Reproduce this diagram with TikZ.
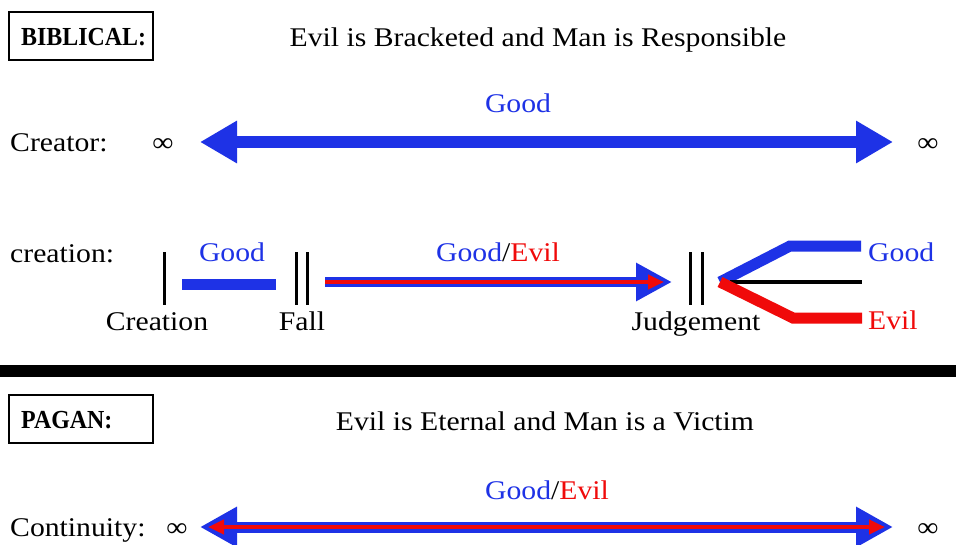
\documentclass[tikz,border=0pt]{standalone}
\usepackage{fontspec}
\setmainfont{Liberation Serif}[FakeStretch=1.1]
\newfontfamily\capfont{Liberation Serif}[FakeStretch=0.92]
\usetikzlibrary{arrows.meta}
\definecolor{gblue}{RGB}{30,50,230}
\definecolor{ered}{RGB}{240,10,10}
\tikzset{
  txt/.style={inner sep=0pt, anchor=base, font=\fontsize{27}{32}\selectfont},
  btxt/.style={inner sep=0pt, anchor=base west, font=\fontsize{26}{30}\capfont\bfseries},
  labbox/.style={draw, line width=2pt, minimum width=144pt, minimum height=48pt, inner sep=0pt},
  tick/.style={line width=3pt},
}
\begin{document}
\begin{tikzpicture}[x=1pt,y=-1pt]
\useasboundingbox[fill=white] (0,0) rectangle (956,544);
% BIBLICAL
\node[labbox] (bib) at (81,36) {};
\node[btxt] (bibt) at (21,45) {BIBLICAL:};
\node[txt] (t1) at (538,46) {Evil is Bracketed and Man is Responsible};
\node[txt, text=gblue] (g1) at (518,112) {Good};
\node[txt, anchor=base west] (creator) at (10,151) {Creator:};
\node[txt] (i1) at (163,151) {∞};
\node[txt] (i2) at (928,151) {∞};
\coordinate (a1) at (200,142);
\coordinate (a2) at (893,142);
\draw[gblue, line width=12pt, {Triangle[length=37pt,width=40pt]}-{Triangle[length=37pt,width=40pt]}] (a1) -- (a2);
% creation line
\node[txt, anchor=base west] (creation) at (10,262) {creation:};
\coordinate (c1t) at (164,252); \coordinate (c1b) at (164,305);
\draw[tick] (c1t) -- (c1b);
\node[txt] (creL) at (157,330) {Creation};
\coordinate (gb1) at (182,284); \coordinate (gb2) at (276,284);
\draw[gblue, line width=11pt] (gb1) -- (gb2);
\node[txt, text=gblue] (g2) at (232,261) {Good};
\coordinate (f1t) at (296,252); \coordinate (f1b) at (296,305);
\coordinate (f2t) at (307,252); \coordinate (f2b) at (307,305);
\draw[tick] (f1t) -- (f1b);
\draw[tick] (f2t) -- (f2b);
\node[txt] (fallL) at (302,330) {Fall};
\node[txt] (ge1) at (498,261) {\textcolor{gblue}{Good}/\textcolor{ered}{Evil}};
\coordinate (m1) at (325,282); \coordinate (m2) at (672,282);
\coordinate (m2r) at (664,282);
\draw[gblue, line width=10pt, -{Triangle[length=36pt,width=36pt]}] (m1) -- (m2);
\draw[ered, line width=4pt, -{Triangle[length=16pt,width=14pt]}] (m1) -- (m2r);
\coordinate (j1t) at (690,252); \coordinate (j1b) at (690,305);
\coordinate (j2t) at (702,252); \coordinate (j2b) at (702,305);
\draw[tick] (j1t) -- (j1b);
\draw[tick] (j2t) -- (j2b);
\node[txt] (judL) at (696,330) {Judgement};
% branches
\coordinate (br0) at (720,282);
\coordinate (bu1) at (790,246); \coordinate (bu2) at (861,246);
\coordinate (bd1) at (793,318); \coordinate (bd2) at (862,318);
\coordinate (bk1) at (730,282); \coordinate (bk2) at (862,282);
\draw[gblue, line width=11pt, line join=miter] (br0) -- (bu1) -- (bu2);
\draw[black, line width=4pt] (bk1) -- (bk2);
\draw[ered, line width=11pt, line join=miter] (br0) -- (bd1) -- (bd2);
\node[txt, text=gblue, anchor=base west] (g3) at (868,261) {Good};
\node[txt, text=ered, anchor=base west] (e3) at (868,329) {Evil};
% divider
\coordinate (d1) at (0,371); \coordinate (d2) at (956,371);
\draw[line width=12pt] (d1) -- (d2);
% PAGAN
\node[labbox] (pag) at (81,419) {};
\node[btxt] (pagt) at (21,428) {PAGAN:};
\node[txt] (t2) at (545,430) {Evil is Eternal and Man is a Victim};
\node[txt] (ge2) at (547,499) {\textcolor{gblue}{Good}/\textcolor{ered}{Evil}};
\node[txt, anchor=base west] (cont) at (10,536) {Continuity:};
\node[txt] (i3) at (177,536) {∞};
\node[txt] (i4) at (928,536) {∞};
\coordinate (p1) at (200,527); \coordinate (p2) at (893,527);
\coordinate (p1r) at (208,527); \coordinate (p2r) at (885,527);
\draw[gblue, line width=11pt, {Triangle[length=37pt,width=38pt]}-{Triangle[length=37pt,width=38pt]}] (p1) -- (p2);
\draw[ered, line width=4pt, {Triangle[length=16pt,width=14pt]}-{Triangle[length=16pt,width=14pt]}] (p1r) -- (p2r);
\end{tikzpicture}
\end{document}
